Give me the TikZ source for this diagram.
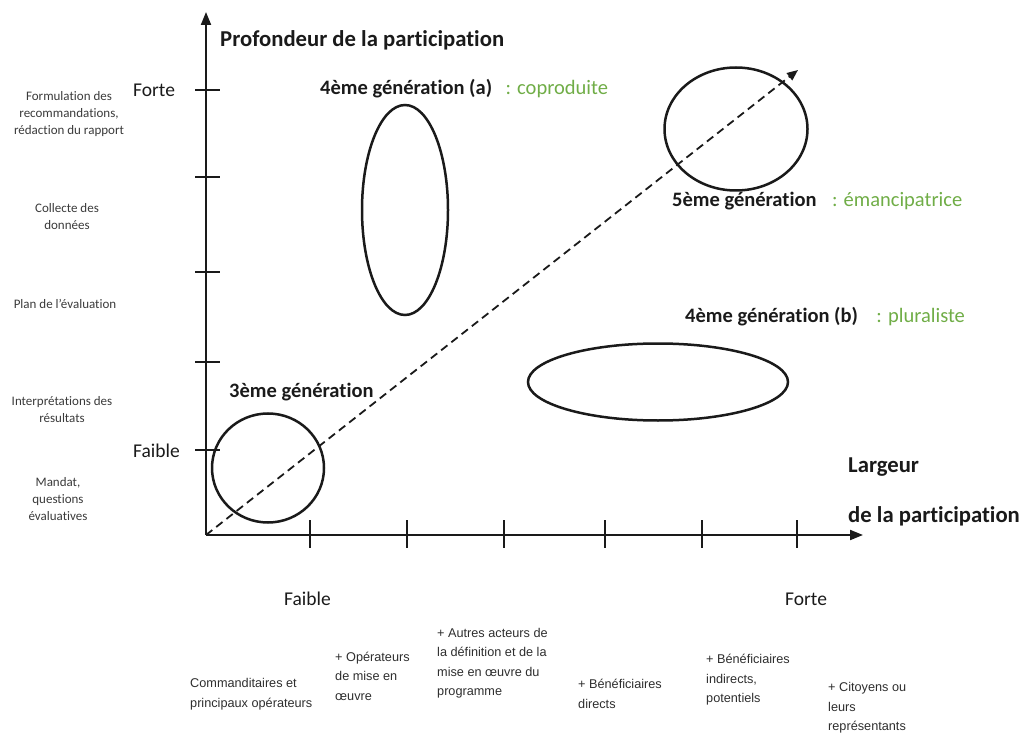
\documentclass[tikz,border=0pt]{standalone}
\usepackage{fontspec}
\setmainfont{Carlito}[Ligatures={NoCommon,NoRequired,NoContextual},Contextuals=NoAlternate]
\newfontfamily\actorfont{Liberation Sans}
\usetikzlibrary{arrows.meta,positioning,shapes.geometric}
\definecolor{GenInk}{HTML}{1A1A1A}
\definecolor{GenGreen}{HTML}{70AD47}
\definecolor{GenGrey}{HTML}{3A3A3A}
\definecolor{GenActor}{HTML}{2E2E2E}
\tikzset{
  axis/.style={-{Triangle[length=13pt,width=10pt]},line width=2pt,draw=GenInk},
  tickmark/.style={line width=1.8pt,draw=GenInk},
  trend/.style={-{Triangle[length=11pt,width=9pt]},line width=1.8pt,dash pattern=on 8pt off 5pt,draw=GenInk},
  gen/.style={ellipse,draw=GenInk,line width=2.5pt,inner sep=0pt},
  axistitle/.style={font=\bfseries\fontsize{22.7}{27}\selectfont,text=GenInk,anchor=base west,inner sep=0pt},
  genname/.style={font=\bfseries\fontsize{20.5}{24}\selectfont,text=GenInk,anchor=base west,inner sep=0pt},
  genkind/.style={font=\fontsize{20.5}{24}\selectfont,text=GenGreen,anchor=base west,inner sep=0pt},
  level/.style={font=\fontsize{19.5}{23}\selectfont,text=GenInk,anchor=base west,inner sep=0pt},
  stage/.style={font=\fontsize{13}{17}\selectfont,text=GenGrey,align=center,inner sep=0pt},
  actor/.style={font=\actorfont\fontsize{12.7}{19.5}\selectfont,text=GenActor,align=left,anchor=west,inner sep=0pt}
}
\begin{document}
\begin{tikzpicture}[x=1pt,y=-1pt]
  \useasboundingbox (0,0) rectangle (1020,735);
  \coordinate (O) at (206,535);
  \coordinate (ytop) at (206,12);
  \coordinate (xend) at (863,535);
  \coordinate (trendend) at (798,70);
  \draw[axis] (O) -- (ytop);
  \draw[axis] (O) -- (xend);
  \foreach \y in {90,177,272,362,450} \draw[tickmark] (195,\y) -- (220,\y);
  \foreach \x in {310,407,504,605,702,797} \draw[tickmark] (\x,520) -- (\x,548);
  \node[gen,minimum width=112pt,minimum height=109pt] (g3) at (268,468) {};
  \node[gen,minimum width=86pt,minimum height=210pt] (g4a) at (405,210) {};
  \node[gen,minimum width=260pt,minimum height=77pt] (g4b) at (658,382) {};
  \node[gen,minimum width=143pt,minimum height=123pt] (g5) at (736,129) {};
  \draw[trend] (O) -- (trendend);
  \node[axistitle] (depth) at (220,47) {Profondeur de la participation};
  \node[axistitle] (width1) at (848,472) {Largeur};
  \node[axistitle] (width2) at (848,522) {de la participation};
  \node[genname] (n4a) at (320,95) {4ème génération (a)};
  \node[genkind,right=13pt of n4a.base east,anchor=base west] (k4a) {: coproduite};
  \node[genname] (n5) at (672,207) {5ème génération};
  \node[genkind,right=15pt of n5.base east,anchor=base west] (k5) {: émancipatrice};
  \node[genname] (n4b) at (685,323) {4ème génération (b)};
  \node[genkind,right=18pt of n4b.base east,anchor=base west] (k4b) {: pluraliste};
  \node[genname] (n3) at (229,397) {3ème génération};
  \node[level] (yhigh) at (133,97) {Forte};
  \node[level] (ylow) at (133,457) {Faible};
  \node[level] (xlow) at (284,605) {Faible};
  \node[level] (xhigh) at (785,605) {Forte};
  \node[stage] (s5) at (69,114) {Formulation des\\recommandations,\\rédaction du rapport};
  \node[stage] (s4) at (67,217) {Collecte des\\données};
  \node[stage] (s3) at (65,304) {Plan de l’évaluation};
  \node[stage] (s2) at (62,410) {Interprétations des\\résultats};
  \node[stage] (s1) at (58,499) {Mandat,\\questions\\évaluatives};
  \node[actor] (a1) at (190,694) {Commanditaires et\\principaux opérateurs};
  \node[actor] (a2) at (335,676) {+ Opérateurs\\de mise en\\œuvre};
  \node[actor] (a3) at (437,663) {+ Autres acteurs de\\la définition et de la\\mise en œuvre du\\programme};
  \node[actor] (a4) at (578,694) {+ Bénéficiaires\\directs};
  \node[actor] (a5) at (706,680) {+ Bénéficiaires\\indirects,\\potentiels};
  \node[actor] (a6) at (828,708) {+ Citoyens ou\\leurs\\représentants};
\end{tikzpicture}
\end{document}
